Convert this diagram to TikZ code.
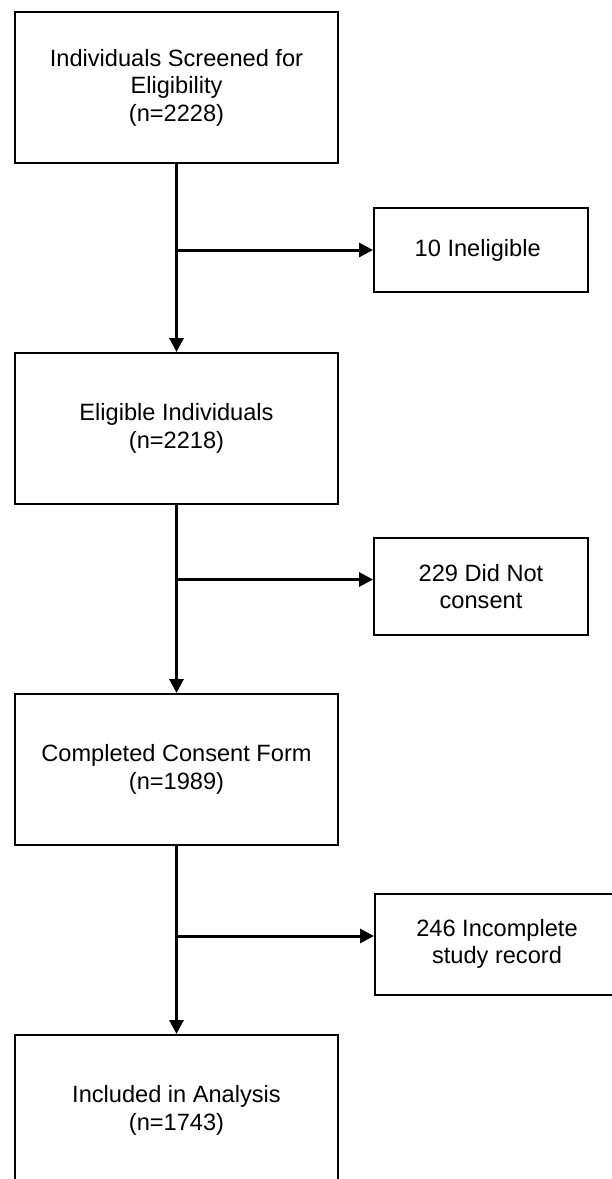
\documentclass[tikz,border=0pt]{standalone}
\usepackage{fontspec}
\setmainfont{Liberation Sans}
\usepackage{tikz}
\usetikzlibrary{arrows.meta,positioning}

\begin{document}
\begin{tikzpicture}[ font=\fontsize{11.8pt}{13.75pt}\selectfont,
      >={Triangle[length=7pt,width=7pt]}, box/.style={ draw, line
      width=1pt, align=center, inner sep=0pt, minimum width=161.5pt,
      minimum height=75.5pt }, side/.style={ draw, line width=1pt,
      align=center, inner sep=0pt, minimum width=107pt },
      arrow/.style={->, line width=1.5pt} ]

    \useasboundingbox (0,0) rectangle (305.5pt,-589.5pt);

    % main column
    \node[box] (b1) at (88.25pt,-43.75pt) { Individuals Screened for\\
      Eligibility\\
      (n=2228) };

    \node[box, anchor=north] (b2) at ([yshift=-94pt]b1.south) { Eligible
      Individuals\\
      (n=2218) };

    \node[box, anchor=north] (b3) at ([yshift=-94pt]b2.south) { Completed
      Consent Form\\
      (n=1989) };

    \node[box, anchor=north] (b4) at ([yshift=-94pt]b3.south) { Included in
      Analysis\\
      (n=1743) };

    % exclusions
    \node[side, minimum height=42pt] (s1) at (240.5pt,-125pt) { 10
      Ineligible };

    \node[side, minimum height=48.5pt] (s2) at (240.5pt,-293.25pt) { 229 Did
      Not\\
      consent };

    \node[side, anchor=west, minimum width=122pt, minimum height=50.5pt]
      (s3) at (187pt,-472pt) { 246 Incomplete\\
      study record };

    \coordinate (e2) at ([yshift=3.5pt]s2.west);
    \coordinate (e3) at ([yshift=4pt]s3.west);

    \draw[arrow] (b1) -- (b2);
    \draw[arrow] (b2) -- (b3);
    \draw[arrow] (b3) -- (b4);

    \draw[arrow] (b1.south |- s1.west) -- (s1.west);
    \draw[arrow] (b2.south |- e2) -- (e2);
    \draw[arrow] (b3.south |- e3) -- (e3);

  \end{tikzpicture}
\end{document}
